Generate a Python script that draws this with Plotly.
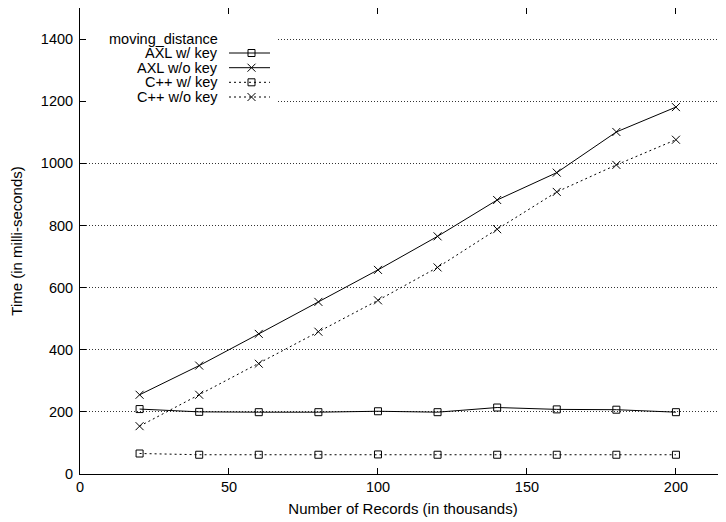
import plotly.graph_objects as go

# ---- data ----
records = [20, 40, 60, 80, 100, 120, 140, 160, 180, 200]
axl_with_key = [209, 200, 199, 199, 202, 199, 214, 208, 207, 199]
axl_without_key = [255, 349, 451, 554, 657, 765, 882, 970, 1101, 1181]
cpp_with_key = [66, 62, 62, 62, 63, 62, 62, 62, 62, 62]
cpp_without_key = [154, 255, 355, 458, 559, 665, 788, 908, 995, 1076]
series_names = ["AXL w/ key", "AXL w/o key", "C++ w/ key", "C++ w/o key"]
legend_title = "moving_distance"
x_ticks = [0, 50, 100, 150, 200]
y_ticks = [0, 200, 400, 600, 800, 1000, 1200, 1400]

FONT = "Liberation Sans, Arial, Helvetica, sans-serif"
DOT = "2px,3px"
styles = [
    dict(dash="solid", symbol="square-open", size=7),
    dict(dash="solid", symbol="x-thin-open", size=8),
    dict(dash=DOT, symbol="square-open", size=7),
    dict(dash=DOT, symbol="x-thin-open", size=8),
]
values = [axl_with_key, axl_without_key, cpp_with_key, cpp_without_key]

fig = go.Figure()
for name, vals, st in zip(series_names, values, styles):
    fig.add_trace(go.Scatter(
        x=records, y=vals, name=name, mode="lines+markers",
        line=dict(color="black", width=1, dash=st["dash"]),
        marker=dict(symbol=st["symbol"], size=st["size"], color="black",
                    line=dict(color="black", width=1)),
        showlegend=False,
    ))

# ---- gnuplot-style key drawn on an overlay axis in screen-pixel units ----
# white key background hiding the grid behind it
fig.add_trace(go.Scatter(
    x=[81, 277, 277, 81, 81], y=[27, 27, 108, 108, 27], mode="lines",
    fill="toself", fillcolor="white", line=dict(width=0, color="white"),
    xaxis="x2", yaxis="y2", showlegend=False, hoverinfo="skip",
))
row_y = [53, 67.7, 82.3, 97]
for name, st, ry in zip(series_names, styles, row_y):
    fig.add_trace(go.Scatter(
        x=[229, 270], y=[ry, ry], mode="lines", xaxis="x2", yaxis="y2",
        line=dict(color="black", width=1, dash=st["dash"]),
        showlegend=False, hoverinfo="skip",
    ))
    fig.add_trace(go.Scatter(
        x=[251.5], y=[ry], mode="markers", xaxis="x2", yaxis="y2",
        marker=dict(symbol=st["symbol"], size=st["size"], color="black",
                    line=dict(color="black", width=1)),
        showlegend=False, hoverinfo="skip",
    ))
    fig.add_annotation(x=220, y=ry, xref="x2", yref="y2", text=name,
                       showarrow=False, xanchor="right", yanchor="middle",
                       font=dict(family=FONT, size=14.5, color="black"))
fig.add_annotation(x=107, y=38.5, xref="x2", yref="y2", text=legend_title,
                   showarrow=False, xanchor="left", yanchor="middle",
                   font=dict(family=FONT, size=14.5, color="black"))

# page body adds an 8px offset, so the figure is placed 8px up/left
fig.update_layout(
    width=726, height=522,
    margin=dict(l=72, r=8, t=0, b=56, autoexpand=False),
    paper_bgcolor="white", plot_bgcolor="white",
    font=dict(family=FONT, size=14, color="black"),
    xaxis=dict(
        range=[0, 216.8], tickvals=x_ticks, ticks="inside", ticklen=6,
        tickcolor="black", showline=True, linecolor="black", linewidth=1,
        mirror="ticks", showgrid=False, zeroline=False,
        title=dict(text="Number of Records (in thousands)", standoff=9,
                   font=dict(size=15)),
        tickfont=dict(size=14.5),
    ),
    yaxis=dict(
        range=[0, 1500], tickvals=y_ticks, ticks="inside", ticklen=6,
        tickcolor="black", showline=True, linecolor="black", linewidth=1,
        mirror=False, showgrid=True, gridcolor="#333", griddash="1px,2px",
        gridwidth=1, zeroline=False, ticklabelstandoff=3,
        title=dict(text="Time (in milli-seconds)", standoff=17,
                   font=dict(size=15)),
        tickfont=dict(size=14.5),
    ),
    xaxis2=dict(range=[80, 726], overlaying="x", visible=False, fixedrange=True),
    yaxis2=dict(range=[474, 8], overlaying="y", visible=False, fixedrange=True),
)

fig.write_html("out.html")
